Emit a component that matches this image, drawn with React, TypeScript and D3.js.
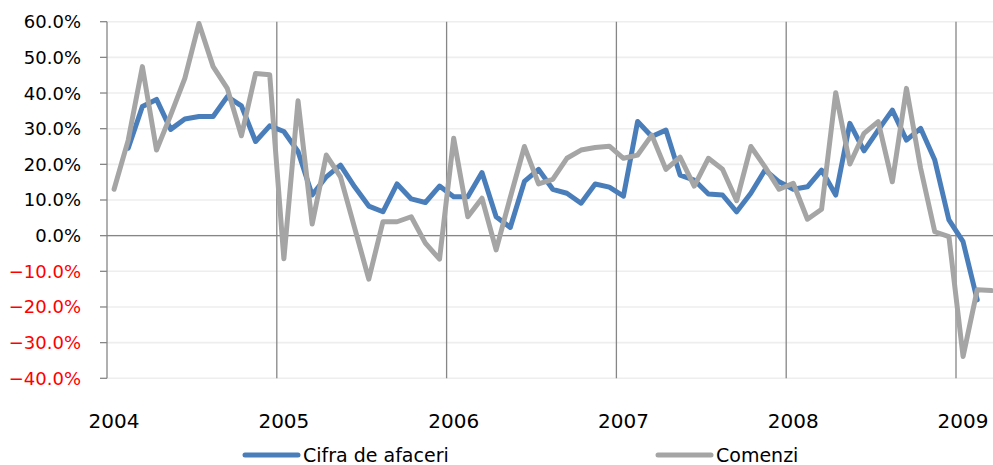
import * as d3 from "d3";

const years = ["2004", "2005", "2006", "2007", "2008", "2009"];
const yTicks = [60, 50, 40, 30, 20, 10, 0, -10, -20, -30, -40];

// monthly values, Jan 2004 .. Mar 2009 (percent)
const cifraDeAfaceri: (number | null)[] = [
  null, 24.5, 36.2, 38.2, 29.8, 32.7, 33.4, 33.4, 39.0, 36.4, 26.4, 30.8,
  29.2, 23.6, 11.4, 16.5, 19.8, 13.7, 8.3, 6.7, 14.5, 10.3, 9.3, 13.9,
  10.9, 10.9, 17.7, 5.3, 2.3, 15.2, 18.6, 13.0, 11.9, 9.1, 14.5, 13.6,
  11.1, 32.0, 27.8, 29.6, 17.0, 15.6, 11.7, 11.4, 6.7, 11.9, 18.4, 15.1,
  13.0, 13.7, 18.4, 11.4, 31.5, 23.8, 29.6, 35.2, 26.8, 30.1, 21.2, 4.4,
  -1.7, -18.0, null,
];
const comenzi: (number | null)[] = [
  13.0, 26.8, 47.4, 24.0, 33.8, 44.1, 59.5, 47.4, 41.3, 28.0, 45.5, 45.1,
  -6.5, 37.8, 3.3, 22.6, 16.5, 2.2, -12.2, 3.9, 3.9, 5.3, -2.1, -6.6,
  27.3, 5.3, 10.5, -4.0, 10.7, 25.0, 14.5, 15.8, 21.7, 24.0, 24.7, 25.1,
  21.7, 22.6, 28.2, 18.6, 22.0, 13.9, 21.7, 18.6, 9.8, 25.0, 19.3, 13.0,
  14.7, 4.6, 7.4, 40.1, 20.1, 28.7, 32.0, 15.1, 41.3, 18.9, 1.1, -0.3,
  -33.9, -15.2, -15.4,
];

const W = 993;
const H = 465;
const FONT = "'DejaVu Sans', sans-serif";

export default function App() {
  const left = 107;
  const slot = 14.15;
  const n = comenzi.length;
  const x = d3.scaleLinear().domain([0, n]).range([left, left + n * slot]);
  const y = d3.scaleLinear().domain([-40, 60]).range([378.3, 21.7]);

  const line = d3
    .line<number | null>()
    .defined((d) => d !== null)
    .x((_, i) => x(i + 0.5))
    .y((d) => y(d as number));

  const series = [
    { name: "Cifra de afaceri", values: cifraDeAfaceri, color: "#4a7ebb" },
    { name: "Comenzi", values: comenzi, color: "#a5a5a5" },
  ];

  return (
    <svg
      width={W}
      height={H}
      style={{ position: "absolute", left: 0, top: 0, background: "#fff" }}
    >
      {/* horizontal gridlines */}
      {yTicks.map((t) => (
        <line
          key={"g" + t}
          x1={left}
          x2={W}
          y1={y(t)}
          y2={y(t)}
          stroke="#eeeeee"
          strokeWidth={1.6}
        />
      ))}
      {/* year separators */}
      {years.slice(1).map((yr, k) => (
        <line
          key={"v" + yr}
          x1={x((k + 1) * 12)}
          x2={x((k + 1) * 12)}
          y1={y(60)}
          y2={y(-40)}
          stroke="#868686"
          strokeWidth={1.3}
        />
      ))}
      {/* zero line */}
      <line x1={left} x2={W} y1={y(0)} y2={y(0)} stroke="#868686" strokeWidth={1.3} />
      {/* y axis */}
      <line x1={left} x2={left} y1={y(60)} y2={y(-40)} stroke="#868686" strokeWidth={1.3} />
      {yTicks.map((t) => (
        <g key={"t" + t}>
          <line x1={left - 7} x2={left} y1={y(t)} y2={y(t)} stroke="#868686" strokeWidth={1.3} />
          <text
            x={81}
            y={y(t)}
            dy="0.36em"
            textAnchor="end"
            fontFamily={FONT}
            fontSize={18}
            fill={t < 0 ? "#ff0000" : "#000"}
          >
            {d3.format(".1f")(t) + "%"}
          </text>
        </g>
      ))}
      {/* x labels */}
      {years.map((yr, k) => (
        <text
          key={"x" + yr}
          x={x(k * 12 + 0.5)}
          y={428}
          textAnchor="middle"
          fontFamily={FONT}
          fontSize={20}
          fill="#000"
        >
          {yr}
        </text>
      ))}
      {/* series */}
      {series.map((s) => (
        <path
          key={s.name}
          d={line(s.values) || ""}
          fill="none"
          stroke={s.color}
          strokeWidth={5}
          strokeLinejoin="round"
          strokeLinecap="round"
        />
      ))}
      {/* legend */}
      {series.map((s, i) => {
        const lx = i === 0 ? 245 : 658;
        return (
          <g key={"l" + s.name}>
            <line x1={lx} x2={lx + 53} y1={455} y2={455} stroke={s.color} strokeWidth={5} strokeLinecap="round" />
            <text x={lx + 58} y={462} fontFamily={FONT} fontSize={19} fill="#000">
              {s.name}
            </text>
          </g>
        );
      })}
    </svg>
  );
}
